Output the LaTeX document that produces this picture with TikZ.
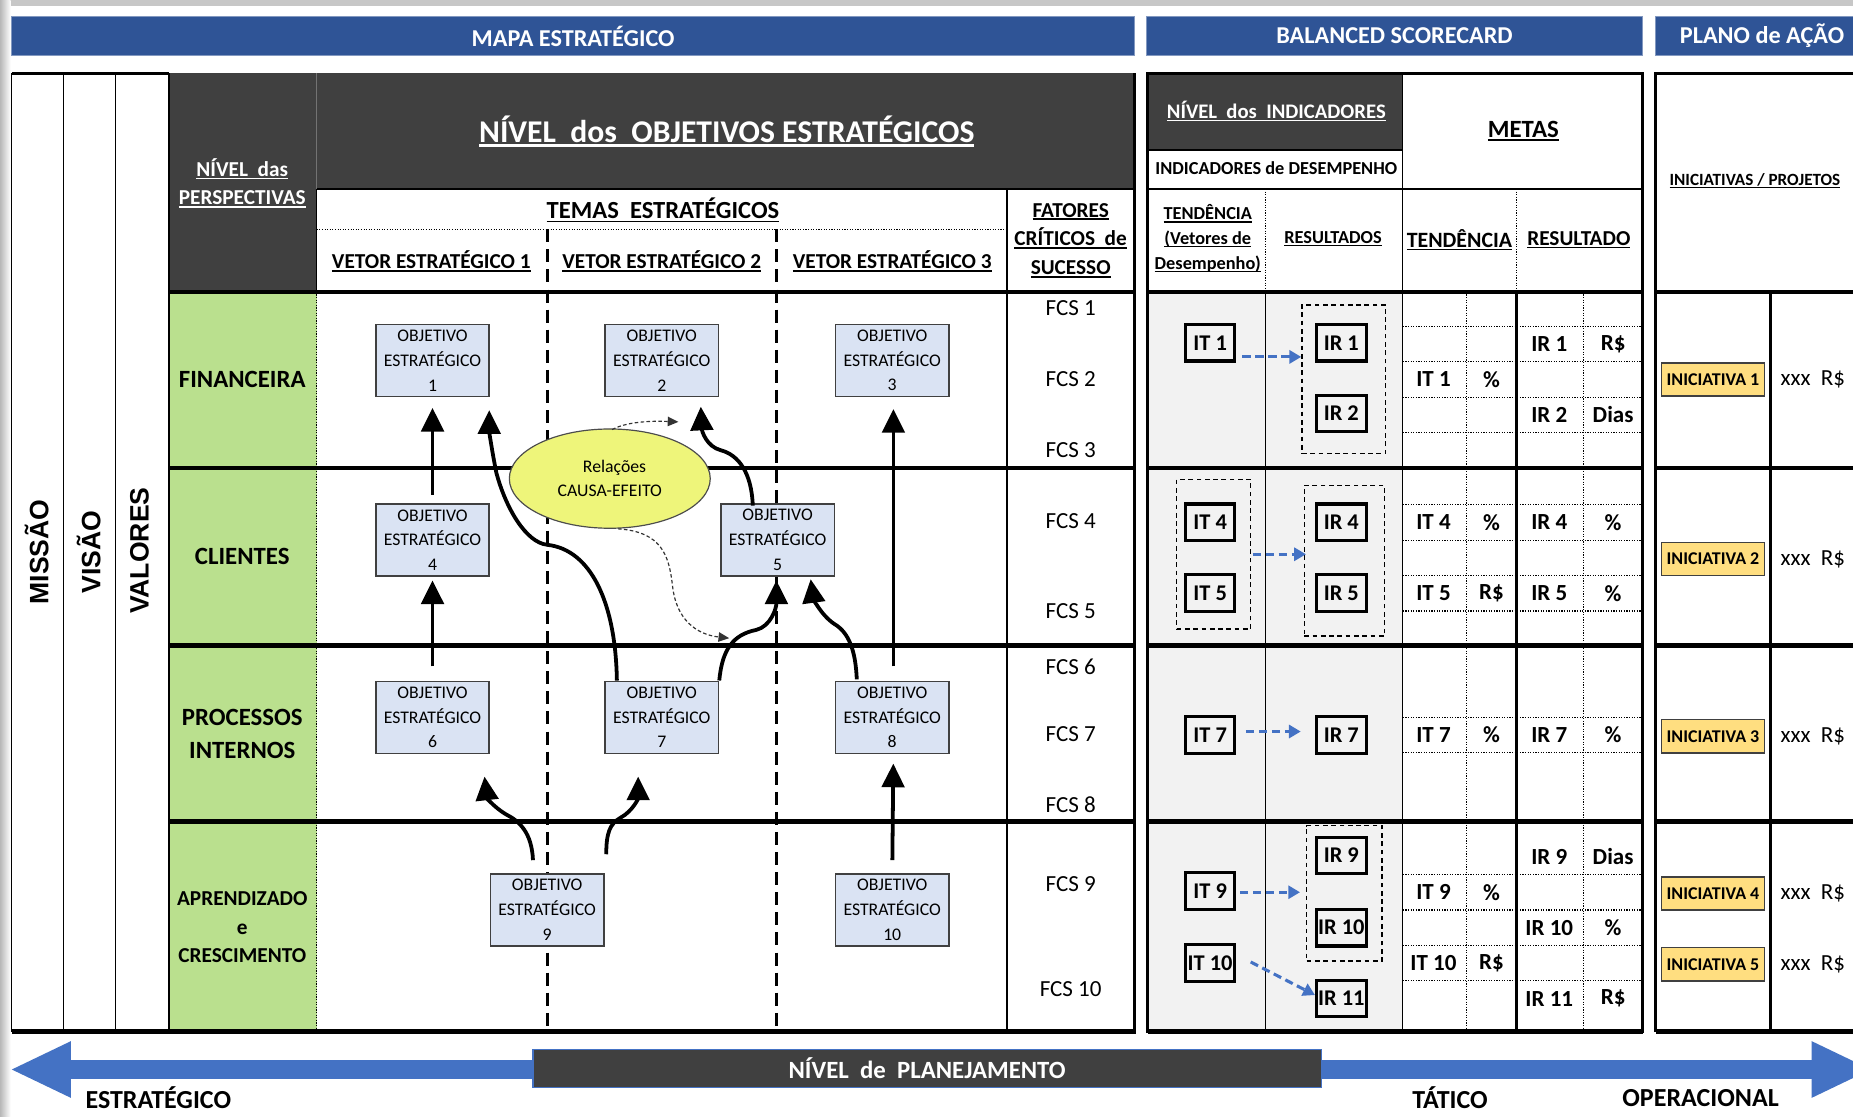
\documentclass[tikz,border=0pt]{standalone}
\usepackage{fontspec}
\setmainfont{Carlito}
\newfontfamily\arialfont{Liberation Sans}
\usetikzlibrary{arrows.meta,shapes.geometric,calc,fit}

\definecolor{hdrblue}{RGB}{47,84,150}
\definecolor{darkcell}{RGB}{64,64,64}
\definecolor{persgreen}{RGB}{186,224,142}
\definecolor{objblue}{RGB}{218,227,243}
\definecolor{causeyellow}{RGB}{238,245,122}
\definecolor{initgold}{RGB}{255,222,128}
\definecolor{indgray}{RGB}{242,242,242}
\definecolor{arrowblue}{RGB}{68,114,196}

% underline with a rule that scales with the font
\newcommand\undl[1]{\leavevmode\setbox0=\hbox{#1}\rlap{\rule[-0.14em]{\wd0}{0.075em}}\box0}
\newcommand\fsz[1]{\fontsize{#1}{#1}\selectfont}

\begin{document}
\begin{tikzpicture}[x=1pt,y=-1pt,
  rowrule/.style={line width=4pt},
  framerule/.style={line width=2.4pt},
  gridthin/.style={line width=1.1pt},
  gridmid/.style={line width=2.8pt},
  griddot/.style={line width=0.9pt, dash pattern=on 1pt off 1.2pt},
  vdash/.style={line width=2.6pt, dash pattern=on 11pt off 6pt},
  hdrbar/.style={fill=hdrblue, draw=hdrblue!60!white, line width=0.8pt, text=white,
    font=\bfseries\fsz{20.5}, inner sep=0pt, minimum height=33pt},
  wlbl/.style={text=white, inner sep=0pt, align=center},
  blbl/.style={inner sep=0pt, align=center},
  obj/.style={draw=black!75, line width=1.3pt, fill=objblue, minimum width=96pt,
    minimum height=61pt, inner sep=0pt, align=center, font=\fontsize{15}{21}\selectfont},
  causal/.style={line width=3.2pt, -{Triangle[length=20pt,width=19pt]}},
  hint/.style={line width=1pt, dash pattern=on 3pt off 2pt, black!80,
    -{Triangle[length=9pt,width=8pt]}},
  indbox/.style={draw, line width=2.6pt, fill=indgray, minimum width=42pt,
    minimum height=31pt, inner sep=0pt, font=\bfseries\fsz{19}},
  grp/.style={draw, line width=1.2pt, dash pattern=on 4pt off 3pt, inner sep=0pt},
  flow/.style={arrowblue, line width=2.6pt, dash pattern=on 7pt off 4pt,
    -{Triangle[length=10pt,width=11pt]}},
  init/.style={draw=black!75, line width=1.2pt, fill=initgold, minimum width=87pt,
    minimum height=28pt, inner sep=0pt, font=\bfseries\fsz{15.2}},
  metatxt/.style={inner sep=0pt, font=\bfseries\fsz{19.5}},
  fcstxt/.style={inner sep=0pt, font=\fsz{19.5}},
  costtxt/.style={inner sep=0pt, font=\fsz{19.5}},
  lvltxt/.style={inner sep=0pt, font=\bfseries\fsz{22}}
]
\useasboundingbox (0,0) rectangle (1568,945);
\fill[white] (0,0) rectangle (1568,945);

% sheet edge
\fill[black!22] (0,0) rectangle (1568,5);
\shade[left color=black!28, right color=white] (0,0) rectangle (9,945);

% ---------- section headers ----------
\node[hdrbar, minimum width=950pt] (hdrMap) at (485,30.5) {MAPA ESTRATÉGICO};
\node[hdrbar, minimum width=420pt] (hdrBsc) at (1180,30.5) {BALANCED SCORECARD};
\node[hdrbar, minimum width=180pt] (hdrPlan) at (1491,30.5) {PLANO de AÇÃO};

% ---------- strategic map: fills ----------
\fill[darkcell] (143,62) rectangle (960,160);
\fill[darkcell] (143,160) rectangle (268,247);
\fill[persgreen] (143,247) rectangle (268,873);

% ---------- strategic map: rules ----------
\draw[framerule] (10,62) -- (143,62);
\foreach \xx in {10,54,98,143} \draw[gridthin] (\xx,62) -- (\xx,873);
\draw[black!55, line width=0.8pt] (268,62) -- (268,160);
\draw[gridthin] (268,160) -- (268,247);
\draw[griddot] (268,247) -- (268,873);
\draw[gridthin] (268,160) -- (960,160);
\draw[gridthin] (852,160) -- (852,873);
\draw[griddot] (268,194) -- (852,194);
\draw[vdash] (463,194) -- (463,873);
\draw[vdash] (657,194) -- (657,873);
\foreach \yy in {247,396,546,695} \draw[rowrule] (143,\yy) -- (960,\yy);
\draw[rowrule] (10,873) -- (960,873);
\draw[framerule] (960,62) -- (960,875);

% ---------- balanced scorecard: fills and rules ----------
\fill[darkcell] (971,62) rectangle (1187,127);
\fill[indgray] (971,247) rectangle (1187,873);
\draw[gridthin] (971,127) -- (1187,127);
\draw[gridthin] (971,160) -- (1390,160);
\draw[gridthin] (1187,62) -- (1187,873);
\draw[griddot] (1071,160) -- (1071,247);
\draw[griddot] (1283,160) -- (1283,247);
\draw[gridthin] (1071,247) -- (1071,873);
\draw[griddot] (1241,247) -- (1241,873);
\draw[griddot] (1340,247) -- (1340,873);
\draw[gridmid] (1283,247) -- (1283,873);
\foreach \yy in {276,306,336,366,427,457,487,517,607,637,740,770,800,830}
  \draw[griddot] (1187,\yy) -- (1390,\yy);
\foreach \yy in {247,396,546,695,873} \draw[rowrule] (971,\yy) -- (1390,\yy);
\draw[framerule] (971,62) rectangle (1390,873);

% ---------- action plan: rules ----------
\draw[framerule] (1401,873) -- (1401,62) -- (1580,62);
\draw[gridmid] (1498,247) -- (1498,873);
\foreach \yy in {247,396,546,695,873} \draw[rowrule] (1401,\yy) -- (1580,\yy);

% ---------- side labels ----------
\node[rotate=90, inner sep=0pt, font=\arialfont\bfseries\fsz{22.5}] (lblMissao) at (31,467) {MISSÃO};
\node[rotate=90, inner sep=0pt, font=\arialfont\bfseries\fsz{22.5}] (lblVisao) at (75,467) {VISÃO};
\node[rotate=90, inner sep=0pt, font=\arialfont\bfseries\fsz{22.5}] (lblValores) at (118,466) {VALORES};

% ---------- strategic map headings ----------
\node[wlbl, font=\bfseries\fontsize{18}{24}\selectfont] (hPersp) at (205,155)
  {\undl{NÍVEL\ \ das}\\\undl{PERSPECTIVAS}};
\node[wlbl, font=\bfseries\fsz{26.8}] (hObj) at (615,111)
  {\undl{NÍVEL\ \ dos\ \ OBJETIVOS ESTRATÉGICOS}};
\node[blbl, font=\bfseries\fsz{20.8}] (hTemas) at (561,178) {\undl{TEMAS\ \ ESTRATÉGICOS}};
\node[blbl, font=\bfseries\fsz{18}] (hVet1) at (365,221) {\undl{VETOR ESTRATÉGICO 1}};
\node[blbl, font=\bfseries\fsz{18}] (hVet2) at (560,221) {\undl{VETOR ESTRATÉGICO 2}};
\node[blbl, font=\bfseries\fsz{18}] (hVet3) at (755,221) {\undl{VETOR ESTRATÉGICO 3}};
\node[blbl, font=\bfseries\fontsize{18}{24.5}\selectfont] (hFcs) at (906,203.5)
  {\undl{FATORES}\\\undl{CRÍTICOS\ \ de}\\\undl{SUCESSO}};

% ---------- perspectives ----------
\node[blbl, font=\bfseries\fsz{21}] (pFin) at (205,321) {FINANCEIRA};
\node[blbl, font=\bfseries\fsz{21}] (pCli) at (205,471) {CLIENTES};
\node[blbl, font=\bfseries\fontsize{21}{28}\selectfont] (pProc) at (205,621) {PROCESSOS\\INTERNOS};
\node[blbl, font=\bfseries\fontsize{18}{24.5}\selectfont] (pApr) at (205,784.5) {APRENDIZADO\\e\\CRESCIMENTO};

% ---------- critical success factors ----------
\foreach \n/\yy in {1/261,2/321,3/381,4/441,5/517,6/564,7/621,8/681,9/748,10/837}
  \node[fcstxt] (fcs\n) at (906,\yy) {FCS \n};

% ---------- strategic objectives ----------
\node[obj] (oe1) at (366,305) {OBJETIVO\\ESTRATÉGICO\\1};
\node[obj] (oe2) at (560,305) {OBJETIVO\\ESTRATÉGICO\\2};
\node[obj] (oe3) at (755,305) {OBJETIVO\\ESTRATÉGICO\\3};
\node[obj] (oe4) at (366,457) {OBJETIVO\\ESTRATÉGICO\\4};
\node[obj] (oe5) at (658,457) {OBJETIVO\\ESTRATÉGICO\\5};
\node[obj] (oe6) at (366,607) {OBJETIVO\\ESTRATÉGICO\\6};
\node[obj] (oe7) at (560,607) {OBJETIVO\\ESTRATÉGICO\\7};
\node[obj] (oe8) at (755,607) {OBJETIVO\\ESTRATÉGICO\\8};
\node[obj] (oe9) at (463,770) {OBJETIVO\\ESTRATÉGICO\\9};
\node[obj] (oe10) at (755,770) {OBJETIVO\\ESTRATÉGICO\\10};

\node[ellipse, draw=black!70, line width=1pt, fill=causeyellow, minimum width=170pt,
  minimum height=84pt, inner sep=0pt, align=center, font=\fontsize{15}{20}\selectfont]
  (cause) at (516,405) {\hspace*{8pt}Relações\\CAUSA-EFEITO};

% ---------- cause and effect links ----------
\draw[causal, shorten <=7pt, shorten >=9pt] (oe4.north) -- (oe1.south);
\draw[causal, shorten <=12pt, shorten >=3pt] (oe6.north) -- (oe4.south);
\draw[causal, shorten <=12pt, shorten >=10pt] ([xshift=1pt]oe8.north) -- ([xshift=1pt]oe3.south);
\draw[causal, shorten <=11pt, shorten >=8pt] (oe10.north) -- ([xshift=1pt]oe8.south);
\draw[causal] ($(oe7.north)+(-38,0)$) .. controls (521,510) and (500,465) .. (463,461)
  .. controls (445,459) and (428,430) .. (420,400)
  .. controls (416,380) and (414,365) .. ($(oe1.south)+(48,11)$);
\draw[causal] ($(oe5.north)+(-21,2)$) .. controls (636,400) and (625,385) .. (610,381)
  .. controls (598,378) and (594,365) .. ($(oe2.south)+(33,8)$);
\draw[causal] (oe7.north east) .. controls (611,550) and (620,537) .. (640,533)
  .. controls (652,530) and (657,515) .. ($(oe5.south)+(-1,3)$);
\draw[causal] ($(oe8.north)+(-30,-1)$) .. controls (724,550) and (718,535) .. (706,528)
  .. controls (694,520) and (688,505) .. ($(oe5.south)+(28,2)$);
\draw[causal] ($(oe9.north)+(-12,-11)$) .. controls (450,705) and (440,695) .. (428,689)
  .. controls (418,683) and (412,675) .. ($(oe6.south)+(44,19)$);
\draw[causal] ($(oe9.north)+(50,-16)$) .. controls (513,705) and (516,697) .. (525,692)
  .. controls (536,686) and (540,675) .. ($(oe7.south)+(-20,19)$);

\coordinate (hintTop) at (574,357);
\coordinate (hintLow) at (617,540);
\draw[hint] ($(cause.north)+(2,1)$) .. controls (530,357) and (550,356) .. (hintTop);
\draw[hint] ($(cause.south)+(7,0)$) .. controls (560,450) and (566,470) .. (569,495)
  .. controls (572,525) and (590,537) .. (hintLow);

% ---------- balanced scorecard headings ----------
\node[wlbl, font=\bfseries\fsz{17.5}] (hInd) at (1080,94) {\undl{NÍVEL\ \ dos\ \ INDICADORES}};
\node[blbl, font=\bfseries\fsz{15.5}] (hDes) at (1080,142) {INDICADORES de DESEMPENHO};
\node[blbl, font=\bfseries\fsz{21}] (hMetas) at (1289,111) {\undl{METAS}};
\node[blbl, font=\bfseries\fontsize{15.5}{21}\selectfont] (hTend) at (1022,202)
  {\undl{TENDÊNCIA}\\\undl{(Vetores de}\\\undl{Desempenho)}};
\node[blbl, font=\bfseries\fsz{15.5}] (hRes) at (1128,202) {\undl{RESULTADOS}};
\node[blbl, font=\bfseries\fsz{18.5}] (hMTend) at (1235,203) {\undl{TENDÊNCIA}};
\node[blbl, font=\bfseries\fsz{18}] (hMRes) at (1336,203) {\undl{RESULTADO}};

% ---------- indicators ----------
\node[indbox] (it1) at (1024,290) {IT 1};
\node[indbox] (ir1) at (1135,290) {IR 1};
\node[indbox] (ir2) at (1135,350) {IR 2};
\node[indbox] (it4) at (1024,442) {IT 4};
\node[indbox] (it5) at (1024,502) {IT 5};
\node[indbox] (ir4) at (1135,442) {IR 4};
\node[indbox] (ir5) at (1135,502) {IR 5};
\node[indbox] (it7) at (1024,622) {IT 7};
\node[indbox] (ir7) at (1135,622) {IR 7};
\node[indbox] (ir9) at (1135,724) {IR 9};
\node[indbox] (ir10) at (1135,785) {IR 10};
\node[indbox] (it9) at (1024,754) {IT 9};
\node[indbox] (it10) at (1024,815) {IT 10};
\node[indbox] (ir11) at (1135,845) {IR 11};

\node[grp, fit={($(ir1.north west)+(-11,-15)$) ($(ir2.south east)+(15,17)$)}] (g12) {};
\node[grp, fit={($(it4.north west)+(-6,-19.5)$) ($(it5.south east)+(12,13.5)$)}] (g45t) {};
\node[grp, fit={($(ir4.north west)+(-9,-14.5)$) ($(ir5.south east)+(14,19.5)$)}] (g45r) {};
\node[grp, fit={($(ir9.north west)+(-7,-8.5)$) ($(ir10.south east)+(12,11.5)$)}] (g910) {};

\coordinate (f1s) at ($(it1.east)+(5,12)$);
\draw[flow] (f1s) -- (f1s -| g12.west);
\coordinate (f2s) at ($(g45t.east)+(1,0)$);
\draw[flow] (f2s) -- ($(f2s -| g45r.west)+(2,0)$);
\coordinate (f3s) at ($(it7.east)+(8,-3)$);
\draw[flow] (f3s) -- ($(f3s -| ir7.west)+(-12,0)$);
\coordinate (f4s) at ($(it9.east)+(3,1)$);
\draw[flow] (f4s) -- ($(f4s -| g910.west)+(-5,0)$);
\draw[flow] ($(it10.east)+(12,-1)$) -- ($(ir11.west)+(0,-3)$);

% ---------- targets ----------
\foreach \lbl/\yy [count=\k] in {IT 1/321, IT 4/442, IT 5/502, IT 7/622, IT 9/755, IT 10/815}
  \node[metatxt] (tcode\k) at (1213,\yy) {\lbl};
\foreach \lbl/\yy [count=\k] in {\%/321, \%/442, R\$/502, \%/622, \%/755, R\$/815}
  \node[metatxt] (tunit\k) at (1262,\yy) {\lbl};
\foreach \lbl/\yy [count=\k] in {IR 1/291, IR 2/351, IR 4/442, IR 5/502, IR 7/622, IR 9/725, IR 10/785, IR 11/845}
  \node[metatxt] (rcode\k) at (1311,\yy) {\lbl};
\foreach \lbl/\yy [count=\k] in {R\$/291, Dias/351, \%/442, \%/502, \%/622, Dias/725, \%/785, R\$/845}
  \node[metatxt] (runit\k) at (1365,\yy) {\lbl};

% ---------- action plan ----------
\node[blbl, font=\bfseries\fsz{14.5}] (hInic) at (1485,153) {\undl{INICIATIVAS / PROJETOS}};
\foreach \n/\yy in {1/321,2/473,3/623,4/756,5/816} {
  \node[init] (ini\n) at (1449.5,\yy) {INICIATIVA \n};
  \node[costtxt] (cost\n) at (1534,\yy) {xxx\ \ R\$};
}

% ---------- planning level band ----------
\fill[arrowblue] (10,905) -- (60,881) -- (60,897) -- (1533,897) -- (1533,881) -- (1583,905)
  -- (1533,929) -- (1533,913) -- (60,913) -- (60,929) -- cycle;
\node[fill=darkcell, draw=arrowblue, line width=1pt, minimum width=667pt, minimum height=32pt,
  inner sep=0pt, text=white, font=\bfseries\fsz{21}] (plan) at (784.5,904) {NÍVEL\ \ de\ \ PLANEJAMENTO};
\node[lvltxt] (lvlEst) at (134,929) {ESTRATÉGICO};
\node[lvltxt] (lvlTat) at (1227,929) {TÁTICO};
\node[lvltxt] (lvlOpe) at (1439,929) {OPERACIONAL};
\end{tikzpicture}
\end{document}
